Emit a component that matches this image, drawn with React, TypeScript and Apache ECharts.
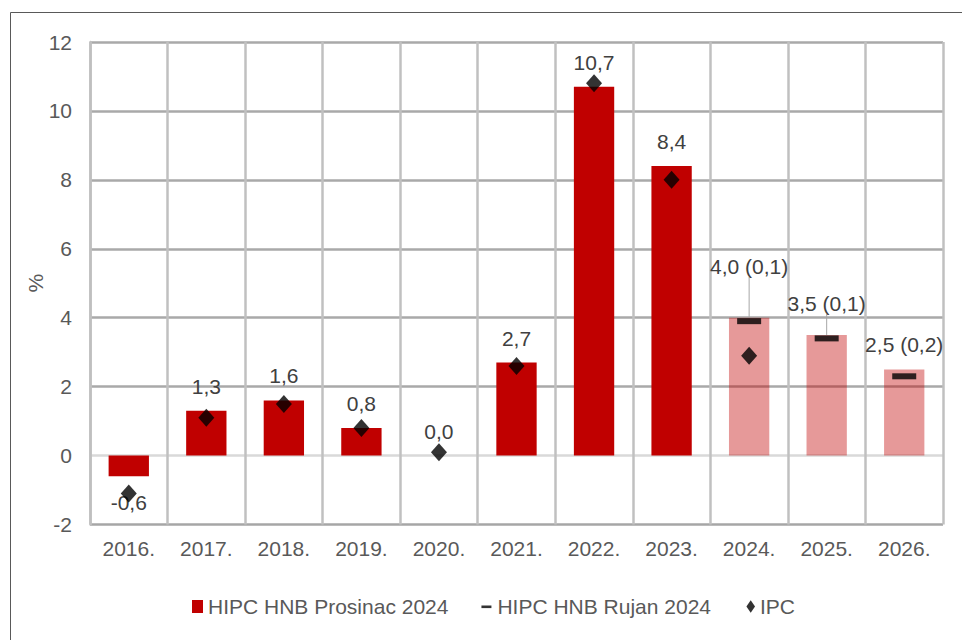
import React, { useEffect, useRef } from "react";
import * as echarts from "echarts";

const years = ["2016.", "2017.", "2018.", "2019.", "2020.", "2021.", "2022.", "2023.", "2024.", "2025.", "2026."];
const prosinac = [-0.6, 1.3, 1.6, 0.8, 0.0, 2.7, 10.7, 8.4, 4.0, 3.5, 2.5];
const revisions: (number | null)[] = [null, null, null, null, null, null, null, null, 0.1, 0.1, 0.2];
const rujan: (number | null)[] = [null, null, null, null, null, null, null, null, 3.9, 3.4, 2.3];
const ipc: (number | null)[] = [-1.1, 1.1, 1.5, 0.8, 0.1, 2.6, 10.8, 8.0, 2.9, null, null];
const yTicks = { min: -2, max: 12, interval: 2 };

const seriesNames = ["HIPC HNB Prosinac 2024", "HIPC HNB Rujan 2024", "IPC"];

// label lift (px) for crowded forecast labels
const labelLift = [0, 0, 0, 0, 0, 0, 0, 0, 27, 7, 0];

const FONT = "'Liberation Sans', Arial, sans-serif";
const fmt = (v: number) => v.toFixed(1).replace(".", ",");

export default function App() {
  const ref = useRef<HTMLDivElement>(null);
  useEffect(() => {
    if (!ref.current) return;
    const chart = echarts.init(ref.current, null, { renderer: "svg" });
    const barData = prosinac.map((v, i) => {
      const forecast = revisions[i] != null;
      const item: any = {
        value: v,
        itemStyle: { color: forecast ? "rgba(192,0,0,0.4)" : "#C00000" },
        labelLine: { show: forecast && labelLift[i] > 0 },
      };
      if (v < 0) item.label = { position: "bottom", distance: 16 };
      return item;
    });
    chart.setOption({
      animation: false,
      textStyle: { fontFamily: FONT },
      graphic: [
        {
          type: "rect",
          shape: { x: 10.5, y: 12.5, width: 1000, height: 700 },
          style: { fill: "none", stroke: "#595959", lineWidth: 1 },
          silent: true,
        },
      ],
      grid: { left: 90, right: 19, top: 42, bottom: 115.5 },
      legend: {
        left: 192,
        top: 596,
        padding: 0,
        itemWidth: 11,
        itemHeight: 13,
        itemGap: 33,
        textStyle: { fontSize: 21, color: "#595959", fontFamily: FONT },
        data: [
          { name: seriesNames[0], icon: "rect" },
          { name: seriesNames[1], icon: "path://M0,0M0,5.5h10v2.6h-10zM11,13" },
          { name: seriesNames[2], icon: "path://M0,0M11,13M2.5,6.5L7,0L11.5,6.5L7,13z" },
        ],
      },
      xAxis: {
        type: "category",
        data: years,
        axisTick: { show: false },
        axisLine: {
          onZero: false,
          lineStyle: {
            color: "#A6A6A6",
            width: 3,
            shadowColor: "rgba(0,0,0,0.25)",
            shadowBlur: 2,
            shadowOffsetY: 2,
          },
        },
        axisLabel: { fontSize: 21, color: "#595959", margin: 13, fontFamily: FONT },
        splitLine: { show: true, interval: 0, lineStyle: { color: "#C0C0C0", width: 2.5 } },
      },
      yAxis: {
        type: "value",
        min: yTicks.min,
        max: yTicks.max,
        interval: yTicks.interval,
        name: "%",
        nameLocation: "middle",
        nameGap: 44,
        nameMoveOverlap: false,
        nameTextStyle: { fontSize: 21, color: "#595959", fontFamily: FONT },
        axisLine: { show: true, lineStyle: { color: "#BFBFBF", width: 2.5 } },
        axisTick: { show: false },
        axisLabel: { fontSize: 21, color: "#595959", margin: 18, fontFamily: FONT },
        splitLine: {
          show: true,
          lineStyle: {
            color: ["#A6A6A6", "#D9D9D9", "#A9A9A9", "#A9A9A9", "#A9A9A9", "#A9A9A9", "#A9A9A9", "#A9A9A9"],
            width: 2.5,
          },
        },
      },
      series: [
        {
          name: seriesNames[0],
          type: "bar",
          barWidth: "52%",
          itemStyle: { color: "#C00000" },
          data: barData,
          z: 2,
          label: {
            show: true,
            position: "top",
            distance: 14,
            fontSize: 21,
            color: "#404040",
            fontFamily: FONT,
            formatter: (p: any) => {
              const r = revisions[p.dataIndex];
              return fmt(p.value) + (r != null ? ` (${fmt(r)})` : "");
            },
          },
          labelLine: { show: false, lineStyle: { color: "#A6A6A6", width: 1 } },
          labelLayout: (p: any) => ({ dy: -labelLift[p.dataIndex] }),
        },
        {
          name: seriesNames[1],
          type: "scatter",
          symbol: "rect",
          symbolSize: [24, 6],
          itemStyle: { color: "#000000" },
          data: rujan,
          z: 4,
        },
        {
          name: seriesNames[2],
          type: "scatter",
          symbol: "diamond",
          symbolSize: [16, 18],
          itemStyle: { color: "#000000" },
          data: ipc,
          z: 5,
        },
      ],
    });
    return () => chart.dispose();
  }, []);
  return (
    <div
      ref={ref}
      style={{ position: "absolute", left: 0, top: 0, width: 962, height: 640, background: "#ffffff" }}
    />
  );
}
